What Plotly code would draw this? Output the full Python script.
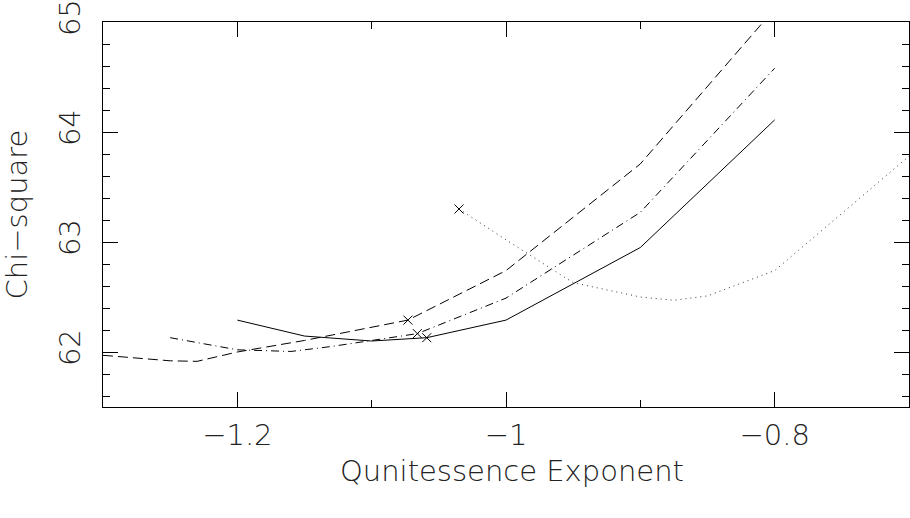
import plotly.graph_objects as go

# Data
solid_x = [-1.2, -1.15, -1.1, -1.059, -1.0, -0.9, -0.8]
solid_y = [62.29, 62.145, 62.10, 62.13, 62.29, 62.95, 64.11]

dashed_x = [-1.3, -1.25, -1.23, -1.2, -1.15, -1.073, -1.0, -0.9, -0.8]
dashed_y = [61.97, 61.92, 61.915, 62.0, 62.105, 62.29, 62.74, 63.71, 65.12]

dashdot_x = [-1.25, -1.2, -1.16, -1.13, -1.066, -1.0, -0.9, -0.8]
dashdot_y = [62.13, 62.02, 62.005, 62.05, 62.167, 62.49, 63.27, 64.58]

dotted_x = [-1.035, -1.0, -0.95, -0.9, -0.875, -0.85, -0.8, -0.7]
dotted_y = [63.30, 63.02, 62.63, 62.50, 62.47, 62.51, 62.74, 63.78]

mark_x = [-1.073, -1.066, -1.059, -1.035]
mark_y = [62.29, 62.167, 62.13, 63.30]

x_tickvals = [-1.2, -1.0, -0.8]
x_ticktext = ["\u22121.2", "\u22121", "\u22120.8"]
y_tickvals = [62, 63, 64, 65]
y_ticktext = ["62", "63", "64", "65"]

FONT = "DejaVu Sans"
TXT = "#222222"

fig = go.Figure()
fig.add_trace(go.Scatter(x=solid_x, y=solid_y, mode="lines",
                         line=dict(color="black", width=1)))
fig.add_trace(go.Scatter(x=dashed_x, y=dashed_y, mode="lines",
                         line=dict(color="black", width=1, dash="10px,5px")))
fig.add_trace(go.Scatter(x=dashdot_x, y=dashdot_y, mode="lines",
                         line=dict(color="black", width=1, dash="8px,4px,1px,4px")))
fig.add_trace(go.Scatter(x=dotted_x, y=dotted_y, mode="lines",
                         line=dict(color="#333333", width=1, dash="1px,4px")))
fig.add_trace(go.Scatter(x=mark_x, y=mark_y, mode="markers",
                         marker=dict(symbol="x-thin-open", size=9, color="black",
                                     line=dict(color="black", width=1))))

axis_common = dict(
    showline=True, linecolor="black", linewidth=1, mirror="ticks",
    ticks="inside", ticklen=15, tickwidth=1, tickcolor="black",
    showgrid=False, zeroline=False, automargin=False,
    ticklabeloverflow="allow",
    tickfont=dict(family=FONT, size=29, color=TXT, weight=200),
)

fig.update_layout(
    width=910, height=518,
    margin=dict(l=103, r=1, t=22, b=111),
    paper_bgcolor="white", plot_bgcolor="white",
    showlegend=False,
    font=dict(family=FONT, color=TXT),
    xaxis=dict(
        range=[-1.3, -0.7],
        tickvals=x_tickvals, ticktext=x_ticktext,
        minor=dict(ticks="inside", ticklen=7, dtick=0.1, tick0=-1.3,
                   tickcolor="black", tickwidth=1, showgrid=False),
        ticklabelstandoff=2,
        **axis_common,
    ),
    yaxis=dict(
        range=[61.5, 65.0001],
        tickvals=y_tickvals, ticktext=y_ticktext,
        tickangle=-90,
        minor=dict(ticks="inside", ticklen=7, dtick=0.2, tick0=61.6,
                   tickcolor="black", tickwidth=1, showgrid=False),
        ticklabelstandoff=10,
        title=dict(text="Chi\u2212square",
                   font=dict(family=FONT, size=29, color=TXT, weight=200),
                   standoff=22),
        **axis_common,
    ),
    annotations=[dict(
        text="Qunitessence Exponent", xref="paper", yref="paper",
        x=0.5, y=0, xanchor="center", yanchor="middle",
        xshift=6, yshift=-64, showarrow=False,
        font=dict(family=FONT, size=29, color=TXT, weight=200),
    )],
)

fig.write_html("out.html",
               config={"displayModeBar": False},
               post_script="document.body.style.margin='0';document.body.style.overflow='hidden';")
